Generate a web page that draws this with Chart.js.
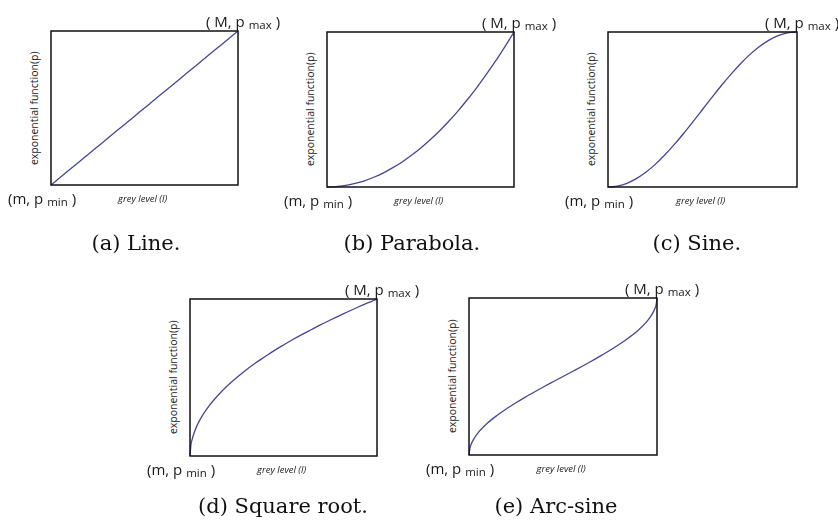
<!DOCTYPE html>
<html>
<head>
<meta charset="utf-8">
<script src="https://cdn.jsdelivr.net/npm/chart.js"></script>
<style>
  html, body { margin: 0; padding: 0; background: #fff; }
  #page { position: relative; width: 838px; height: 524px; overflow: hidden; }
  canvas { position: absolute; }
  .lbl { position: absolute; white-space: nowrap; line-height: 1; color: #1a1a1a; }
  .corner { font-family: "Open Sans", sans-serif; font-size: 15px; }
  .corner span { font-size: 11.5px; position: relative; top: 2px; }
  .xt { font-family: "Open Sans", sans-serif; font-size: 9.5px; font-style: italic; color: #222; }
  .yt { font-family: "Open Sans", sans-serif; font-size: 10.5px; color: #222; transform-origin: center; }
  .cap { font-family: "DejaVu Serif", serif; font-size: 21px; color: #111; }
</style>
</head>
<body>
<div id="page"></div>
<script>
// grey level samples (x, 0..1 between m and M)
const greyLevel = [0, 0.005, 0.01, 0.025, 0.05, 0.1, 0.15, 0.2, 0.25, 0.3, 0.35, 0.4, 0.45, 0.5,
                   0.55, 0.6, 0.65, 0.7, 0.75, 0.8, 0.85, 0.9, 0.95, 0.975, 0.99, 0.995, 1];

// p values (0 = p_min, 1 = p_max)
const lineP     = [0, 0.005, 0.01, 0.025, 0.05, 0.1, 0.15, 0.2, 0.25, 0.3, 0.35, 0.4, 0.45, 0.5,
                   0.55, 0.6, 0.65, 0.7, 0.75, 0.8, 0.85, 0.9, 0.95, 0.975, 0.99, 0.995, 1];
const parabolaP = [0, 0, 0.0001, 0.0006, 0.003, 0.01, 0.023, 0.04, 0.063, 0.09, 0.123, 0.16, 0.203, 0.25,
                   0.303, 0.36, 0.423, 0.49, 0.563, 0.64, 0.723, 0.81, 0.903, 0.951, 0.98, 0.99, 1];
const sineP     = [0, 0.0001, 0.0002, 0.0015, 0.006, 0.024, 0.054, 0.095, 0.146, 0.206, 0.273, 0.345, 0.422, 0.5,
                   0.578, 0.655, 0.727, 0.794, 0.854, 0.905, 0.946, 0.976, 0.994, 0.998, 0.9998, 0.9999, 1];
const sqrtP     = [0, 0.071, 0.1, 0.158, 0.224, 0.316, 0.387, 0.447, 0.5, 0.548, 0.592, 0.632, 0.671, 0.707,
                   0.742, 0.775, 0.806, 0.837, 0.866, 0.894, 0.922, 0.949, 0.975, 0.987, 0.995, 0.997, 1];
const arcsineP  = [0, 0.045, 0.064, 0.101, 0.144, 0.205, 0.253, 0.295, 0.333, 0.369, 0.403, 0.436, 0.468, 0.5,
                   0.532, 0.564, 0.597, 0.631, 0.667, 0.705, 0.747, 0.795, 0.856, 0.899, 0.936, 0.955, 1];

const captions = ['(a) Line.', '(b) Parabola.', '(c) Sine.', '(d) Square root.', '(e) Arc-sine'];
const xTitle = 'grey level (l)';
const yTitle = 'exponential function(p)';

const page = document.getElementById('page');
const PAD = 4;

// draw the box round the plot area
const frame = {
  id: 'frame',
  afterDatasetsDraw(chart) {
    const a = chart.chartArea, c = chart.ctx;
    c.save();
    c.strokeStyle = '#111';
    c.lineWidth = 1.5;
    c.strokeRect(a.left, a.top, a.right - a.left, a.bottom - a.top);
    c.restore();
  }
};

function label(html, cls, x, base, k, size) {
  const d = document.createElement('div');
  d.className = 'lbl ' + cls;
  d.innerHTML = html;
  d.style.left = x + 'px';
  d.style.top = (base - k * size) + 'px';
  page.appendChild(d);
  return d;
}

function panel(box, values, caption, capX, capBase) {
  const cv = document.createElement('canvas');
  cv.width = box.w + 2 * PAD;
  cv.height = box.h + 2 * PAD;
  cv.style.left = (box.x - PAD) + 'px';
  cv.style.top = (box.y - PAD) + 'px';
  page.appendChild(cv);

  new Chart(cv.getContext('2d'), {
    type: 'line',
    data: {
      datasets: [{
        data: greyLevel.map((x, i) => ({ x: x, y: values[i] })),
        borderColor: '#45459a',
        borderWidth: 1.3,
        pointRadius: 0,
        fill: false,
        cubicInterpolationMode: 'monotone',
        clip: false
      }]
    },
    options: {
      responsive: false,
      animation: false,
      layout: { padding: PAD },
      plugins: { legend: { display: false }, tooltip: { enabled: false } },
      scales: {
        x: { type: 'linear', min: 0, max: 1, display: false },
        y: { type: 'linear', min: 0, max: 1, display: false }
      }
    },
    plugins: [frame]
  });

  const right = box.x + box.w, bottom = box.y + box.h;
  label('( M, p <span>max</span> )', 'corner', right - 32, box.y - 4, 0.888, 15);
  label('(m, p <span>min</span> )', 'corner', box.x - 43, bottom + 19, 0.888, 15);

  const xt = label(xTitle, 'xt', 0, bottom + 17, 0.888, 9.5);
  xt.style.left = (box.x + box.w / 2 - 2 - xt.offsetWidth / 2) + 'px';

  const yt = label(yTitle, 'yt', 0, 0, 0, 10.5);
  const w = yt.offsetWidth, h = yt.offsetHeight;
  const cx = box.x - 13 - (0.888 - 0.5) * 10.5;
  const cy = box.y + box.h / 2;
  yt.style.left = (cx - w / 2) + 'px';
  yt.style.top = (cy - h / 2) + 'px';
  yt.style.transform = 'rotate(-90deg)';

  const cap = label(caption, 'cap', 0, capBase, 0.846, 21);
  cap.style.left = (capX - cap.offsetWidth / 2) + 'px';
}

panel({ x: 51,  y: 31,  w: 187, h: 154 }, lineP,     captions[0], 136, 251);
panel({ x: 327, y: 32,  w: 187, h: 155 }, parabolaP, captions[1], 412, 251);
panel({ x: 608, y: 32,  w: 189, h: 155 }, sineP,     captions[2], 697, 251);
panel({ x: 190, y: 299, w: 187, h: 157 }, sqrtP,     captions[3], 283, 514);
panel({ x: 469, y: 298, w: 188, h: 157 }, arcsineP,  captions[4], 556, 514);
</script>
</body>
</html>
